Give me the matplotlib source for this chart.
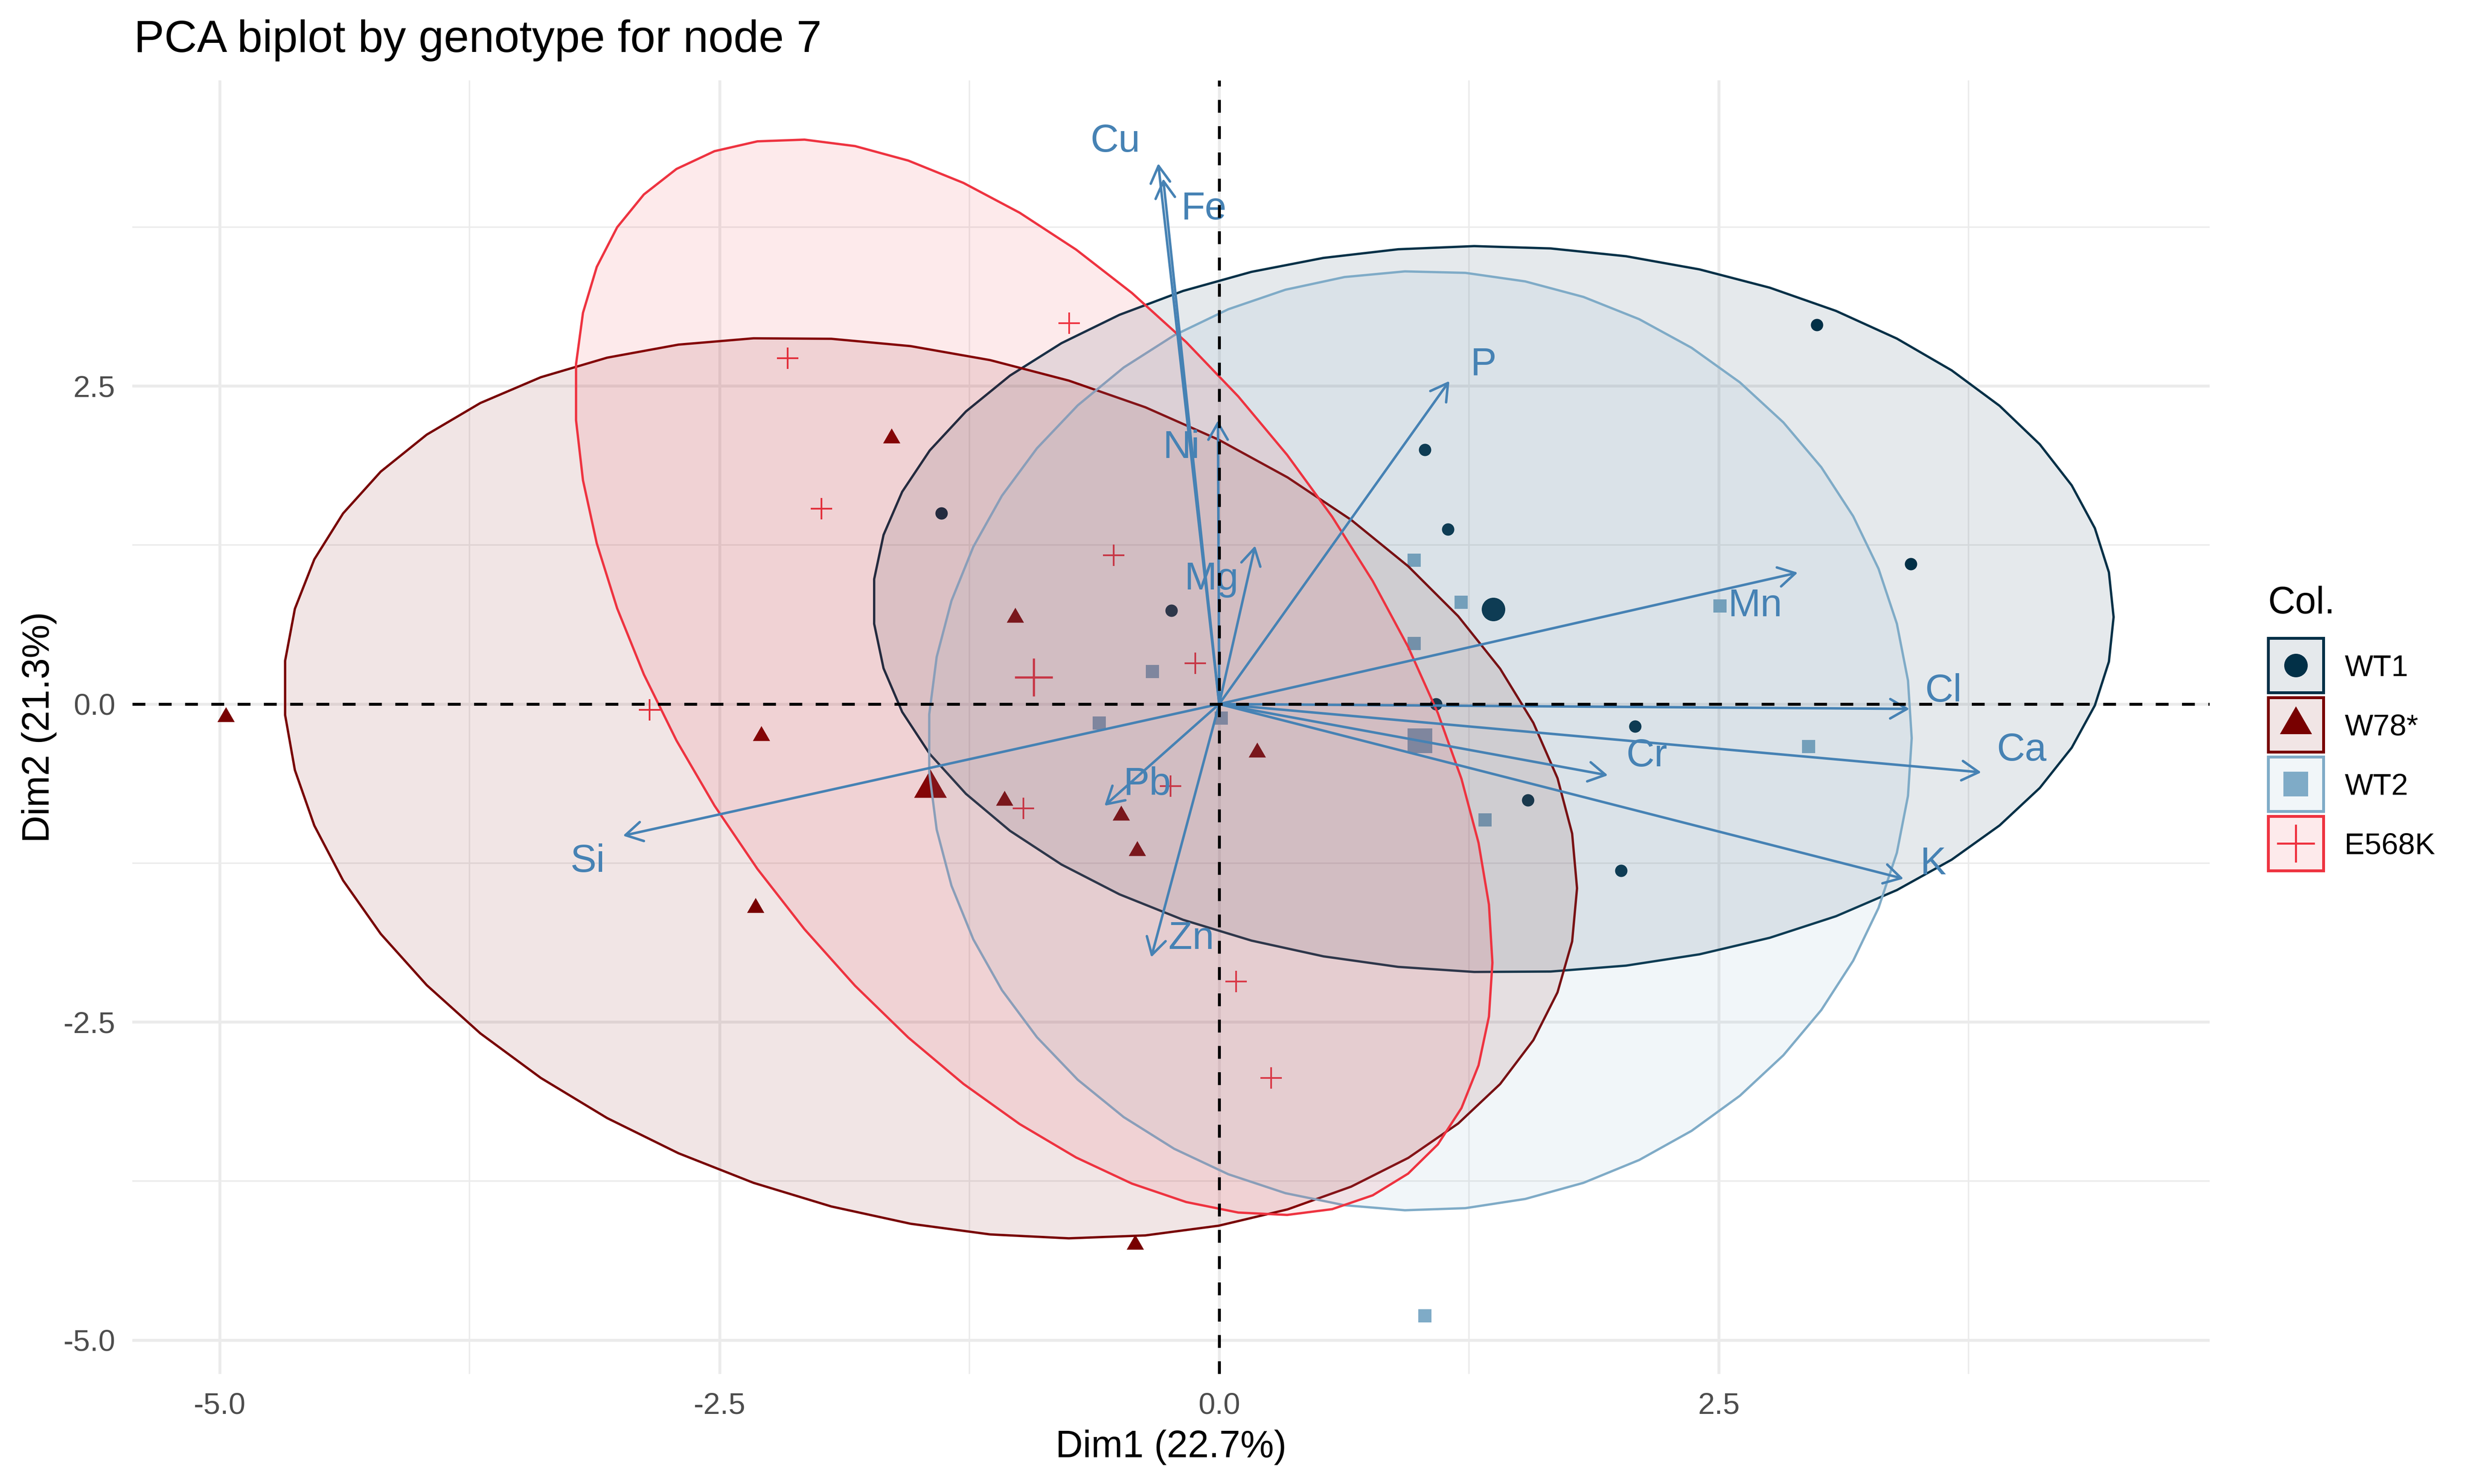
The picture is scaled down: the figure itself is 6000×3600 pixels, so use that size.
import numpy as np
import matplotlib
matplotlib.use("Agg")
import matplotlib.pyplot as plt
from matplotlib.path import Path
from matplotlib.patches import Polygon, Rectangle, FancyArrowPatch
from matplotlib.colors import to_rgb

plt.rcParams['font.family'] = ['Liberation Sans', 'DejaVu Sans']

# ---------------- data ----------------
groups = ["WT1", "W78*", "WT2", "E568K"]
group_colors = ["#023047", "#780000", "#7FABC7", "#EE3340"]

wt1_x = [2.99, 1.03, 1.145, 3.46, 1.085, 2.08, -1.39, -0.24, 1.545, 2.01]
wt1_y = [2.98, 2.00, 1.375, 1.10, 0.0, -0.175, 1.50, 0.735, -0.754, -1.31]
w78_x = [-4.97, -1.64, -1.02, -2.29, -1.075, -0.49, -0.41, -2.32, -0.42, 0.19]
w78_y = [-0.10, 2.09, 0.68, -0.25, -0.76, -0.875, -1.155, -1.60, -4.25, -0.38]
wt2_x = [0.975, 1.21, 0.975, 2.505, -0.335, -0.60, 0.01, 2.948, 1.33, 1.03]
wt2_y = [1.13, 0.80, 0.475, 0.77, 0.255, -0.15, -0.11, -0.334, -0.91, -4.81]
e568k_x = [-0.75, -2.16, -1.99, -0.527, -0.119, -2.85, -0.98, -0.244, 0.085, 0.26]
e568k_y = [2.995, 2.72, 1.535, 1.168, 0.322, -0.045, -0.82, -0.644, -2.18, -2.94]

# ellipse shape matrices (already scaled to the 95% level), per group
ell_sxx = [9.632, 10.465, 6.052, 5.265]
ell_syy = [8.151, 12.532, 13.631, 17.880]
ell_sxy = [-0.19, -2.55, 0.05, -5.15]

# variable arrows
var_names = ["Cu", "Fe", "Ni", "Mg", "P", "Mn", "Cl", "Ca", "K", "Cr", "Si", "Pb", "Zn"]
var_x = [-0.305, -0.28, -0.006, 0.18, 1.152, 2.895, 3.454, 3.813, 3.424, 1.945, -2.983, -0.574, -0.340]
var_y = [4.25, 4.13, 2.23, 1.245, 2.54, 1.033, -0.038, -0.537, -1.373, -0.56, -1.035, -0.80, -1.991]
label_x = [-0.52, -0.078, -0.189, -0.04, 1.322, 2.68, 3.623, 4.015, 3.572, 2.138, -3.16, -0.361, -0.14]
label_y = [4.452, 3.922, 2.045, 1.011, 2.696, 0.80, 0.13, -0.333, -1.228, -0.378, -1.21, -0.603, -1.815]

x_ticks = [-5.0, -2.5, 0.0, 2.5]
y_ticks = [-5.0, -2.5, 0.0, 2.5]
x_minor = [-3.75, -1.25, 1.25, 3.75]
y_minor = [-3.75, -1.25, 1.25, 3.75]

title = "PCA biplot by genotype for node 7"
xlabel = "Dim1 (22.7%)"
ylabel = "Dim2 (21.3%)"
legend_title = "Col."

# ---------------- styles ----------------
PX = 300 / 72.0  # pixels per point
tri = Path([(0, 1), (-0.866, -0.5), (0.866, -0.5), (0, 1)],
           [Path.MOVETO, Path.LINETO, Path.LINETO, Path.CLOSEPOLY])
markers = ["o", tri, "s", "+"]
small_ms = [7.2, 11.6, 7.6, 12.7]
big_ms = [13.7, 22.0, 14.3, 22.0]
small_mew = [0, 0, 0, 1.0]
big_mew = [0, 0, 0, 1.3]
steel = "#4682B4"

xs = [wt1_x, w78_x, wt2_x, e568k_x]
ys = [wt1_y, w78_y, wt2_y, e568k_y]

fig = plt.figure(figsize=(20, 12), dpi=300)
ax = fig.add_axes([321.4 / 6000, (3600 - 3332.7) / 3600,
                   (5360.8 - 321.4) / 6000, (3332.7 - 195.2) / 3600])
ax.set_xlim(-5.437, 4.955)
ax.set_ylim(-5.265, 4.902)

ax.set_xticks(x_ticks)
ax.set_xticklabels([f"{v:.1f}" for v in x_ticks])
ax.set_yticks(y_ticks)
ax.set_yticklabels([f"{v:.1f}" for v in y_ticks])
ax.set_xticks(x_minor, minor=True)
ax.set_yticks(y_minor, minor=True)
ax.tick_params(which='both', length=0, labelsize=17.6, labelcolor='#4D4D4D')
ax.tick_params(axis='x', pad=10.8)
ax.tick_params(axis='y', pad=10.0)
ax.grid(which='major', color='#EBEBEB', lw=1.7)
ax.grid(which='minor', color='#EBEBEB', lw=0.85)
ax.set_axisbelow(True)
for s in ax.spines.values():
    s.set_visible(False)

# points
for g in range(4):
    col = group_colors[g]
    ax.plot(xs[g], ys[g], ls='none', marker=markers[g], ms=small_ms[g],
            color=col, mew=small_mew[g], zorder=2)
    ax.plot([np.mean(xs[g])], [np.mean(ys[g])], ls='none', marker=markers[g],
            ms=big_ms[g], color=col, mew=big_mew[g], zorder=2)

# ellipses (ggplot-style 51-segment polygons)
t = np.linspace(0, 2 * np.pi, 52)
circ = np.column_stack([np.cos(t), np.sin(t)])
for g in range(4):
    S = np.array([[ell_sxx[g], ell_sxy[g]], [ell_sxy[g], ell_syy[g]]])
    R = np.linalg.cholesky(S).T
    pts = circ @ R + np.array([np.mean(xs[g]), np.mean(ys[g])])
    rgb = to_rgb(group_colors[g])
    ax.add_patch(Polygon(pts, closed=True, facecolor=(*rgb, 0.1),
                         edgecolor=group_colors[g], lw=1.35, zorder=3))

# variable arrows
for i in range(len(var_names)):
    arr = FancyArrowPatch((0, 0), (var_x[i], var_y[i]),
                          arrowstyle='->,head_length=9.8,head_width=5.65',
                          mutation_scale=1, lw=1.45, color=steel,
                          shrinkA=0, shrinkB=0, zorder=4)
    ax.add_patch(arr)
    ax.annotate(var_names[i], xy=(label_x[i], label_y[i]), xytext=(0, -8.15),
                textcoords='offset points', ha='center', va='baseline',
                fontsize=22.76, color=steel, zorder=5)

# dashed reference lines
ax.axhline(0, color='black', lw=1.7, ls=(0, (4.4, 4.6)), zorder=6)
ax.axvline(0, color='black', lw=1.7, ls=(0, (4.4, 4.6)), zorder=6)

# titles
fig.text(325 / 6000, 1 - 126 / 3600, title, fontsize=26.4, ha='left', va='baseline')
fig.text(2841 / 6000, (3600 - 3535) / 3600, xlabel, fontsize=22, ha='center', va='baseline')
fig.text(119 / 6000, 1 - 1764 / 3600, ylabel, fontsize=22, rotation=90,
         rotation_mode='anchor', ha='center', va='baseline')

# legend (drawn in pixel coordinates of the figure)
lax = fig.add_axes([0, 0, 1, 1])
lax.set_xlim(0, 6000)
lax.set_ylim(3600, 0)
lax.axis('off')
lax.text(5502, 1487.6, legend_title, fontsize=22, ha='left', va='baseline')
for g in range(4):
    top = 1544 + 144 * g
    rgb = to_rgb(group_colors[g])
    lax.add_patch(Rectangle((5502.5, top + 3.5), 134, 132, facecolor=(*rgb, 0.1),
                            edgecolor=group_colors[g], lw=7 / PX))
    cy = top + 69.5
    lax.plot([5569.5], [cy], ls='none', marker=markers[g], ms=big_ms[g] if g != 1 else 21.6,
             color=group_colors[g], mew=(0 if g != 3 else 1.2))
    lax.text(5688.5, cy + 26, groups[g], fontsize=17.6, ha='left', va='baseline')

fig.savefig("out.png", dpi=300)
